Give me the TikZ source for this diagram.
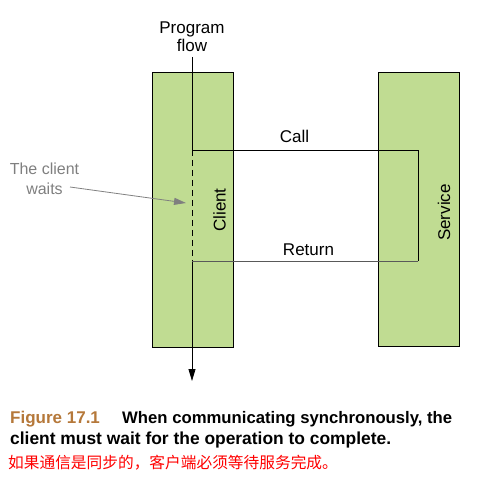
\documentclass[tikz,border=0pt]{standalone}
\usepackage{fontspec}
\setmainfont{Liberation Sans}
\newfontfamily\cjk{Noto Sans CJK SC}
\usetikzlibrary{arrows.meta}
\definecolor{boxgreen}{HTML}{C0DC92}
\definecolor{figbrown}{HTML}{B5783A}
\definecolor{labgrey}{HTML}{7F7F7F}
\tikzset{
  lane/.style={draw=black, fill=boxgreen, line width=0.8pt},
  msg/.style={draw=black, line width=0.8pt},
  lbl/.style={font=\fontsize{17}{18}\selectfont, inner sep=0pt},
}
\begin{document}
\begin{tikzpicture}[x=1pt,y=-1pt]
\useasboundingbox (0,0) rectangle (498,489);
% lanes
\node[lane, minimum width=81pt, minimum height=275pt, inner sep=0pt] (client) at (192.5,209.5) {};
\node[lane, minimum width=81pt, minimum height=274pt, inner sep=0pt] (service) at (418.5,209) {};
\node[lbl, rotate=90] (clientlbl) at (219.5,210) {Client};
\node[lbl, rotate=90] (servicelbl) at (444,212.5) {Service};
% program flow
\node[lbl, anchor=base] (pf1) at (192,34) {Program};
\node[lbl, anchor=base] (pf2) at (192,52) {flow};
\coordinate (pftop) at (192,57);
\coordinate (callstart) at (192,150);
\coordinate (callend) at (418,150);
\coordinate (retstart) at (418,261);
\coordinate (retend) at (192,261);
\coordinate (pfbot) at (192,381);
\draw[msg] (pftop) -- (callstart);
\draw[msg, dashed, dash pattern=on 6pt off 4pt] (callstart) -- (retend);
\draw[msg, -{Triangle[length=12pt,width=7pt]}] (retend) -- (pfbot);
\draw[msg] (callstart) -- (callend) -- (retstart);
\draw[msg, draw=black!65] (retstart) -- (retend);
\node[lbl, anchor=base] (call) at (294.5,143) {Call};
\node[lbl, anchor=base] (ret) at (308.5,255) {Return};
% annotation
\node[lbl, anchor=base, text=labgrey, font=\fontsize{16}{17}\selectfont] (wait1) at (44.5,175) {The client};
\node[lbl, anchor=base, text=labgrey, font=\fontsize{16}{17}\selectfont] (wait2) at (44.5,195) {waits};
\coordinate (waittip) at (186,203);
\draw[draw=labgrey, line width=0.8pt, -{Triangle[length=12pt,width=7pt]}] (70,187) -- (waittip);
% caption
\node[anchor=base west, inner sep=0pt, font=\fontsize{17}{18}\selectfont\bfseries, text=figbrown] (cap0) at (10,423) {Figure 17.1};
\node[anchor=base west, inner sep=0pt, font=\fontsize{16.7}{18}\selectfont\bfseries] (cap1) at (122,423) {When communicating synchronously, the};
\node[anchor=base west, inner sep=0pt, font=\fontsize{17.4}{18}\selectfont\bfseries] (cap2) at (10,444) {client must wait for the operation to complete.};
\node[anchor=base west, inner sep=0pt, font=\fontsize{15.7}{17}\selectfont\cjk, text=red] (cap3) at (8,468) {如果通信是同步的，客户端必须等待服务完成。};
\end{tikzpicture}
\end{document}
